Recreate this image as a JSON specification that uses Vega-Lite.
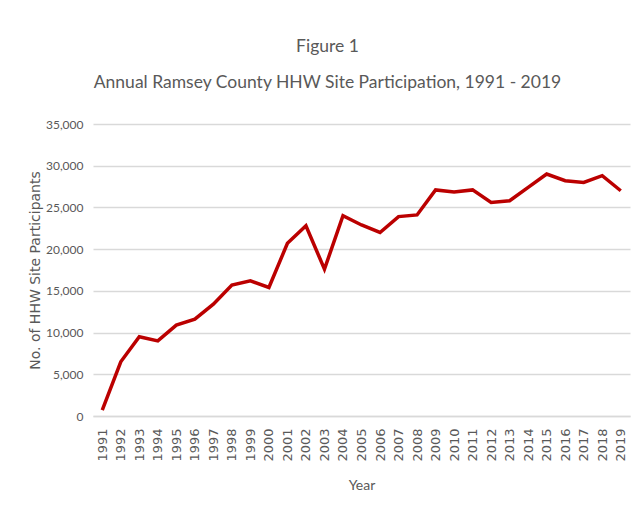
{
  "$schema": "https://vega.github.io/schema/vega-lite/v6.json",
  "width": 537,
  "height": 292,
  "autosize": {"type": "none"},
  "padding": {"left": 93, "top": 124, "right": 8, "bottom": 103},
  "background": "white",
  "title": {
    "text": ["Figure 1", "Annual Ramsey County HHW Site Participation, 1991 - 2019"],
    "font": "Lato",
    "fontSize": 17.5,
    "fontWeight": "normal",
    "color": "#595959",
    "lineHeight": 36,
    "anchor": "middle",
    "frame": "group",
    "dx": -34,
    "offset": 27
  },
  "data": {
    "values": [
      {"Year": "1991", "Participants": 700},
      {"Year": "1992", "Participants": 6500},
      {"Year": "1993", "Participants": 9500},
      {"Year": "1994", "Participants": 9000},
      {"Year": "1995", "Participants": 10900},
      {"Year": "1996", "Participants": 11600},
      {"Year": "1997", "Participants": 13400},
      {"Year": "1998", "Participants": 15700},
      {"Year": "1999", "Participants": 16200},
      {"Year": "2000", "Participants": 15400},
      {"Year": "2001", "Participants": 20700},
      {"Year": "2002", "Participants": 22800},
      {"Year": "2003", "Participants": 17600},
      {"Year": "2004", "Participants": 24000},
      {"Year": "2005", "Participants": 22900},
      {"Year": "2006", "Participants": 22000},
      {"Year": "2007", "Participants": 23900},
      {"Year": "2008", "Participants": 24100},
      {"Year": "2009", "Participants": 27100},
      {"Year": "2010", "Participants": 26850},
      {"Year": "2011", "Participants": 27100},
      {"Year": "2012", "Participants": 25600},
      {"Year": "2013", "Participants": 25800},
      {"Year": "2014", "Participants": 27400},
      {"Year": "2015", "Participants": 29000},
      {"Year": "2016", "Participants": 28200},
      {"Year": "2017", "Participants": 28000},
      {"Year": "2018", "Participants": 28800},
      {"Year": "2019", "Participants": 27000}
    ]
  },
  "mark": {"type": "line", "color": "#bb0000", "strokeWidth": 3.5, "strokeJoin": "miter"},
  "encoding": {
    "x": {
      "field": "Year",
      "type": "ordinal",
      "title": "Year",
      "axis": {
        "labelAngle": -90,
        "labelFont": "DejaVu Sans",
        "labelFontSize": 13,
        "labelColor": "#595959",
        "labelPadding": 12,
        "ticks": false,
        "domainColor": "#d9d9d9",
        "domainWidth": 1.5,
        "titleFont": "Lato",
        "titleFontSize": 14,
        "titleFontWeight": "normal",
        "titleColor": "#595959",
        "titlePadding": 17
      }
    },
    "y": {
      "field": "Participants",
      "type": "quantitative",
      "title": "No. of HHW Site Participants",
      "scale": {"domain": [0, 35000], "nice": false},
      "axis": {
        "values": [0, 5000, 10000, 15000, 20000, 25000, 30000, 35000],
        "format": ",d",
        "domain": false,
        "ticks": false,
        "gridColor": "#d9d9d9",
        "gridWidth": 1.5,
        "labelFont": "Lato",
        "labelFontSize": 12,
        "labelColor": "#595959",
        "labelPadding": 10,
        "titleFont": "DejaVu Sans",
        "titleFontSize": 14,
        "titleFontWeight": "normal",
        "titleColor": "#595959",
        "titlePadding": 3
      }
    }
  },
  "config": {"view": {"stroke": null}}
}
